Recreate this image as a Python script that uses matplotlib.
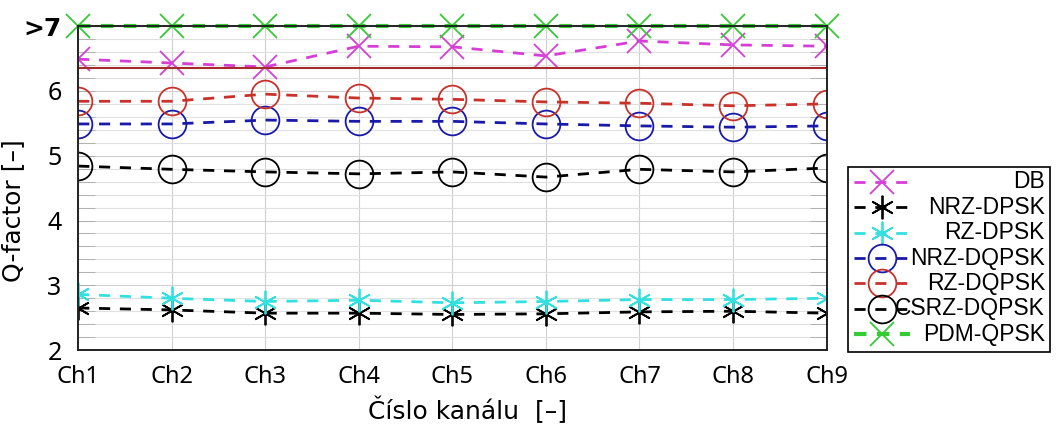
import numpy as np
import matplotlib.pyplot as plt
from matplotlib.transforms import IdentityTransform
from matplotlib.ticker import MultipleLocator

# -------- DATA --------
channels = ["Ch1", "Ch2", "Ch3", "Ch4", "Ch5", "Ch6", "Ch7", "Ch8", "Ch9"]

db = [6.49, 6.43, 6.37, 6.69, 6.68, 6.54, 6.77, 6.71, 6.69]
nrz_dpsk = [2.65, 2.62, 2.57, 2.57, 2.55, 2.56, 2.59, 2.60, 2.57]
rz_dpsk = [2.86, 2.80, 2.75, 2.77, 2.73, 2.75, 2.78, 2.78, 2.80]
nrz_dqpsk = [5.49, 5.49, 5.55, 5.53, 5.53, 5.49, 5.46, 5.44, 5.46]
rz_dqpsk = [5.84, 5.84, 5.95, 5.89, 5.87, 5.83, 5.81, 5.77, 5.80]
csrz_dqpsk = [4.84, 4.79, 4.75, 4.72, 4.75, 4.67, 4.79, 4.75, 4.81]
pdm_qpsk = [7, 7, 7, 7, 7, 7, 7, 7, 7]

limit = 6.35

x = np.arange(1, len(channels) + 1)

plt.rcParams['font.family'] = ['DejaVu Sans']

fig = plt.figure(figsize=(10.57, 4.28), dpi=100)
ax = fig.add_axes([0.074, 0.182, 0.708, 0.757])

dash = (4, 3.5)
ax.plot(x, db, '--x', color='#d63fd6', ms=17, mew=1.3, lw=2, dashes=dash, label='DB')
ax.plot(x, nrz_dpsk, '--', marker=(6, 2, 0), color='black', ms=17, mew=1.3, lw=2, dashes=dash, label='NRZ-DPSK')
ax.plot(x, rz_dpsk, '--', marker=(6, 2, 0), color='#33e0e0', ms=17, mew=1.3, lw=2, dashes=dash, label='RZ-DPSK')
ax.plot(x, nrz_dqpsk, '--o', color='#1a1aa8', ms=20, mfc='none', mew=1.3, lw=2, dashes=dash, label='NRZ-DQPSK')
ax.plot(x, rz_dqpsk, '--o', color='#c8322b', ms=20, mfc='none', mew=1.3, lw=2, dashes=dash, label='RZ-DQPSK')
ax.plot(x, csrz_dqpsk, '--o', color='black', ms=20, mfc='none', mew=1.3, lw=2, dashes=dash, label='CSRZ-DQPSK')
ax.plot(x, pdm_qpsk, '--x', color='#33cc33', ms=17, mew=1.3, lw=3, dashes=(3, 2.5), label='PDM-QPSK', clip_on=False)
ax.axhline(limit, color='#a52a2a', lw=1.5)

ax.set_xlim(1, 9)
ax.set_ylim(2, 7)
ax.set_xticks(x)
ax.set_xticklabels(channels, fontsize=17, family='Noto Sans')
ax.set_yticks([2, 3, 4, 5, 6, 7])
ax.set_yticklabels(['2', '3', '4', '5', '6', '>7'], fontsize=18, family='Noto Sans')
ax.yaxis.set_minor_locator(MultipleLocator(0.2))
ax.tick_params(direction='in', which='both', right=True, length=12, width=0.6, color='#aaaaaa')
ax.tick_params(axis='y', pad=12)
ax.tick_params(axis='x', length=0, pad=11)
ax.grid(True, which='major', color='#d0d0d0', lw=0.8)
ax.grid(True, which='minor', axis='y', color='#e0e0e0', lw=0.8)
for s in ax.spines.values():
    s.set_linewidth(1.4)
    s.set_color('#222222')

ax.set_ylabel('Q-factor [–]', fontsize=18)
ax.set_xlabel('Číslo kanálu  [–]', fontsize=18)
ax.yaxis.set_label_coords(-0.071, 0.43)
ax.xaxis.set_label_coords(0.52, -0.145)

# legend: handles on the left, labels right-aligned (placed after draw)
handles, labels = ax.get_legend_handles_labels()
W, H = 1057, 428
leg = ax.legend(handles, [''] * len(handles), loc='upper left', mode='expand',
                bbox_to_anchor=(848 / W, 1 - 350 / H, 202 / W, 183 / H),
                bbox_transform=fig.transFigure, fontsize=15.5,
                fancybox=False, edgecolor='black', framealpha=1,
                handlelength=2.6, handletextpad=0.1, labelspacing=0.25,
                borderpad=0.3, borderaxespad=0)
leg.get_frame().set_linewidth(1.2)

fig.canvas.draw()
top = ax.get_yticklabels()[-1]
top.set_fontfamily('DejaVu Sans')
top.set_fontweight('bold')
frame = leg.get_frame().get_window_extent()
for h, lab in zip(leg.legend_handles, labels):
    bb = h.get_window_extent()
    yc = (bb.y0 + bb.y1) / 2
    fig.text(frame.x1 - 5, yc, lab, transform=IdentityTransform(),
             ha='right', va='center', fontsize=16.5, family='Liberation Sans')

plt.savefig('out.png', dpi=100)
